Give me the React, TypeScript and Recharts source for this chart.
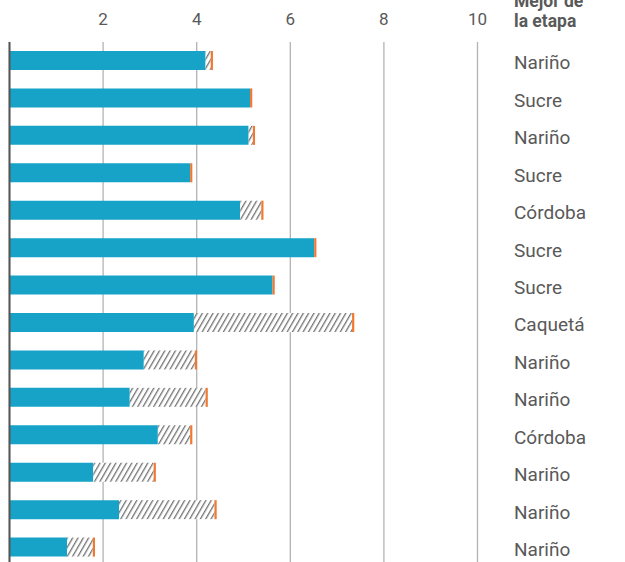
import React from "react";
import {
  BarChart,
  Bar,
  XAxis,
  YAxis,
  CartesianGrid,
  ReferenceLine,
} from "recharts";

const mejorDeLaEtapa = [
  "Nariño",
  "Sucre",
  "Nariño",
  "Sucre",
  "Córdoba",
  "Sucre",
  "Sucre",
  "Caquetá",
  "Nariño",
  "Nariño",
  "Córdoba",
  "Nariño",
  "Nariño",
  "Nariño",
];

const valores = [4.19, 5.14, 5.11, 3.86, 4.93, 6.51, 5.62, 3.94, 2.87, 2.57, 3.17, 1.79, 2.34, 1.23];
const mejores = [4.3, 5.14, 5.2, 3.86, 5.38, 6.51, 5.62, 7.32, 3.96, 4.19, 3.86, 3.08, 4.38, 1.78];

const xTicks = [2, 4, 6, 8, 10];

const data = mejorDeLaEtapa.map((mejor, i) => ({
  mejor,
  valor: valores[i],
  brecha: Math.max(0, +(mejores[i] - valores[i]).toFixed(2)),
}));

const BLUE = "#16a3c7";
const ORANGE = "#f0782f";
const TEXT = "#595959";
const FONT = "Roboto, sans-serif";

const HatchShape = (props: any) => {
  const { x, y, width, height } = props;
  if (x == null || y == null) return null;
  const w = Math.max(0, width || 0);
  return (
    <g>
      {w > 0 && <rect x={x} y={y} width={w} height={height} fill="url(#hatch)" />}
      <rect x={x + w} y={y} width={2.2} height={height} fill={ORANGE} />
    </g>
  );
};

const App = () => {
  return (
    <div
      style={{
        position: "absolute",
        left: 0,
        top: 0,
        width: 625,
        height: 562,
        overflow: "hidden",
        background: "#fff",
      }}
    >
      <div
        style={{
          position: "absolute",
          left: 514,
          top: -9,
          fontFamily: FONT,
          fontWeight: 700,
          fontSize: 17.5,
          lineHeight: "20px",
          color: TEXT,
        }}
      >
        Mejor de
        <br />
        la etapa
      </div>
      <BarChart
        width={625}
        height={566}
        data={data}
        layout="vertical"
        margin={{ top: 0, right: 0, left: 9.5, bottom: 0 }}
      >
        <defs>
          <pattern
            id="hatch"
            patternUnits="userSpaceOnUse"
            width={4.6}
            height={8}
            patternTransform="rotate(30)"
          >
            <rect width={4.6} height={8} fill="#fff" />
            <line x1={0} y1={0} x2={0} y2={8} stroke="#737373" strokeWidth={2.6} />
          </pattern>
        </defs>
        <CartesianGrid horizontal={false} stroke="#b3b3b3" strokeWidth={1.3} />
        <XAxis
          type="number"
          orientation="top"
          domain={[0, 10]}
          ticks={xTicks}
          axisLine={false}
          tickLine={false}
          tickSize={0}
          tickMargin={17}
          height={42}
          tick={{ fill: TEXT, fontSize: 17, fontFamily: FONT }}
        />
        <YAxis
          type="category"
          dataKey="mejor"
          orientation="right"
          width={147.5}
          axisLine={false}
          tickLine={false}
          tickSize={0}
          tickMargin={36.5}
          interval={0}
          tick={{ fill: TEXT, fontSize: 19, fontFamily: FONT, textAnchor: "start", dy: 2 }}
        />
        <Bar dataKey="valor" stackId="a" fill={BLUE} barSize={19} isAnimationActive={false} />
        <Bar
          dataKey="brecha"
          stackId="a"
          fill="url(#hatch)"
          barSize={19}
          shape={HatchShape}
          isAnimationActive={false}
        />
        <ReferenceLine x={0} stroke="#555" strokeWidth={2} />
      </BarChart>
    </div>
  );
};

export default App;
